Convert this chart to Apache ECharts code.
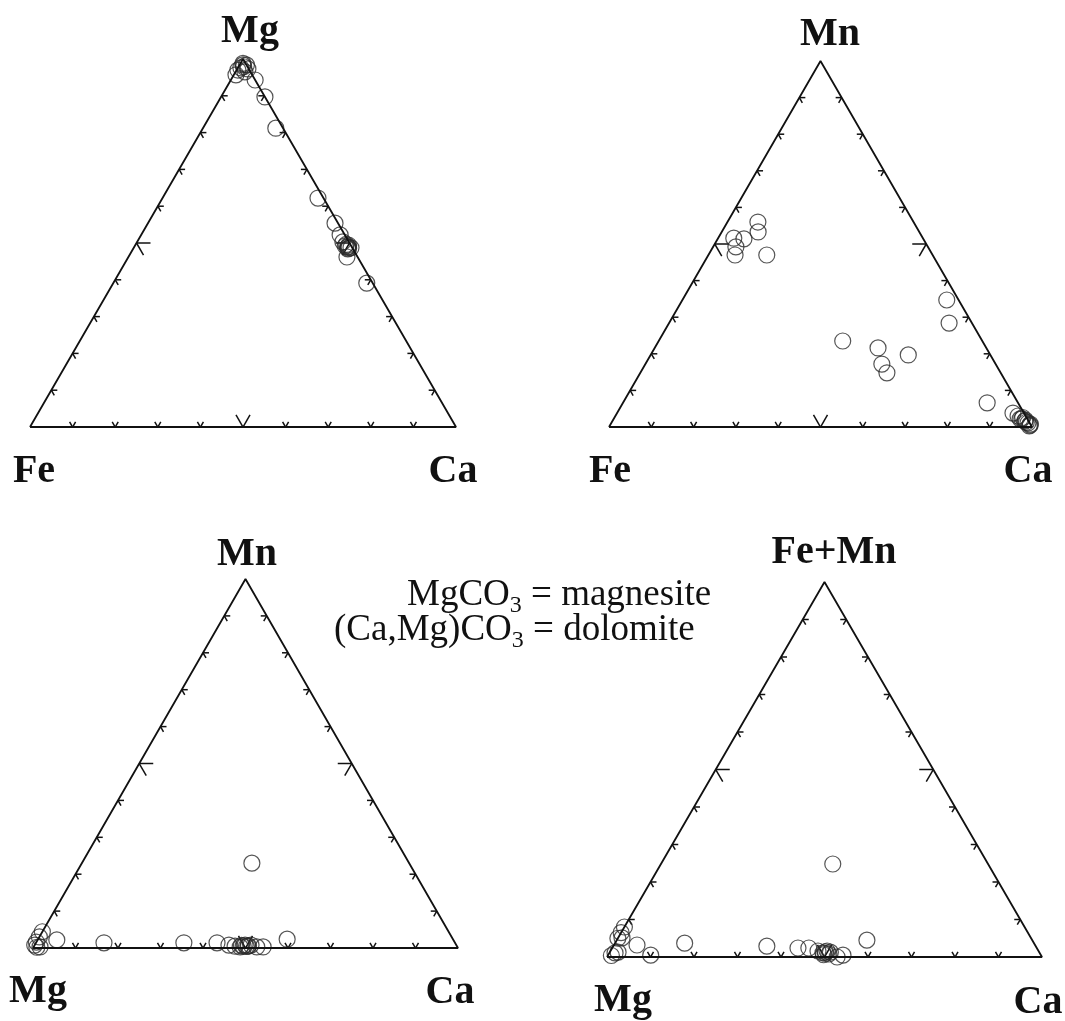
<!DOCTYPE html>
<html>
<head>
<meta charset="utf-8">
<script src="https://cdn.jsdelivr.net/npm/echarts@6/dist/echarts.min.js"></script>
<style>
html,body{margin:0;padding:0;background:#fff;}
#chart{width:1065px;height:1021px;}
</style>
</head>
<body>
<div id="chart"></div>
<script>
// Ternary data, percent: [top apex, bottom-left, bottom-right]
const plot1Labels = ['Mg', 'Fe', 'Ca'];
const plot1Data = [
  [95.7, 3.8, 0.5], [97.0, 2.7, 0.3], [98.4, 0.8, 0.8], [97.3, 0.2, 2.5],
  [96.5, 1.3, 2.2], [98.4, 0.0, 1.6], [97.6, 1.7, 0.7], [98.8, 0.6, 0.6],
  [97.9, 0.9, 1.2], [94.3, 0.0, 5.7],
  [89.7, 0.0, 10.3], [81.2, 1.7, 17.1], [62.2, 1.3, 36.5], [55.4, 0.7, 43.9],
  [52.2, 1.1, 46.7], [50.3, 1.4, 48.3], [48.9, 1.0, 50.1], [49.4, 0.5, 50.1],
  [48.4, 1.2, 50.4], [48.7, 0.3, 51.0], [49.2, 1.4, 49.4], [49.0, 0.8, 50.2],
  [48.6, 0.9, 50.5], [49.6, 1.0, 49.4], [46.2, 2.5, 51.3],
  [39.1, 1.4, 59.5]
];

const plot2Labels = ['Mn', 'Fe', 'Ca'];
const plot2Data = [
  [56.0, 36.8, 7.2], [53.3, 38.1, 8.6], [51.4, 42.4, 6.2], [51.6, 44.7, 3.7],
  [49.2, 45.4, 5.4], [47.0, 46.7, 6.3], [47.0, 39.2, 13.8], [34.7, 2.8, 62.5],
  [28.4, 5.4, 66.2], [23.5, 33.0, 43.5], [21.6, 25.6, 52.8], [19.7, 19.4, 60.9],
  [17.2, 26.9, 55.9], [14.8, 26.9, 58.3], [6.6, 7.3, 86.1], [3.8, 2.6, 93.6],
  [3.0, 1.8, 95.2], [2.2, 1.3, 96.5], [2.2, 1.7, 96.1], [1.6, 0.9, 97.5],
  [1.1, 0.4, 98.5], [0.5, 0.2, 99.3], [0.8, 0.0, 99.2], [1.9, 0.6, 97.5],
  [1.3, 0.7, 98.0], [2.6, 0.9, 96.5], [0.3, 0.5, 99.2]
];

const plot3Labels = ['Mn', 'Mg', 'Ca'];
const plot3Data = [
  [23.0, 37.0, 40.0], [2.2, 93.3, 4.5], [1.4, 82.6, 16.0], [1.4, 63.8, 34.8],
  [1.4, 56.0, 42.6], [0.8, 53.5, 45.7], [0.5, 52.2, 47.3], [0.3, 51.1, 48.6],
  [0.8, 49.7, 49.5], [0.5, 49.2, 50.3], [0.8, 48.3, 50.9], [0.3, 47.2, 52.5],
  [0.3, 45.7, 54.0], [2.4, 39.0, 58.6], [0.8, 99.2, 0.0], [4.4, 95.6, 0.0],
  [3.0, 97.0, 0.0], [0.3, 98.2, 1.5], [1.6, 98.4, 0.0], [0.5, 50.3, 49.2],
  [0.6, 49.0, 50.4], [0.4, 49.6, 50.0], [0.7, 50.6, 48.7], [0.2, 99.0, 0.8]
];

const plot4Labels = ['Fe+Mn', 'Mg', 'Ca'];
const plot4Data = [
  [24.8, 35.7, 39.5], [4.5, 38.0, 57.5], [3.7, 80.3, 16.0], [2.9, 61.8, 35.3],
  [2.4, 54.9, 42.7], [2.4, 52.4, 45.2], [1.6, 50.7, 47.7], [1.6, 48.6, 49.8],
  [1.1, 49.8, 49.1], [1.3, 48.0, 50.7], [0.0, 47.1, 52.9], [0.5, 45.5, 54.0],
  [3.2, 91.5, 5.3], [0.5, 89.7, 9.8], [8.0, 92.0, 0.0], [6.5, 93.5, 0.0],
  [5.0, 95.0, 0.0], [5.1, 94.0, 0.9], [1.1, 97.6, 1.3], [1.3, 96.8, 1.9],
  [1.0, 49.3, 49.7], [0.8, 48.6, 50.6], [1.4, 49.1, 49.5], [0.6, 49.9, 49.5],
  [0.4, 98.8, 0.8]
];

const tickValues = [10, 20, 30, 40, 50, 60, 70, 80, 90];
const majorTick = 50;
const noteLines = [
  ['MgCO', '3', ' = magnesite'],
  ['(Ca,Mg)CO', '3', ' = dolomite']
];

// ---------- layout ----------
const plots = [
  { labels: plot1Labels, data: plot1Data, box: [30, 59, 426, 368],
    labelPos: [[250, 43], [34, 483], [453, 483]] },
  { labels: plot2Labels, data: plot2Data, box: [609, 61, 423, 366],
    labelPos: [[830, 46], [610, 483], [1028, 483]] },
  { labels: plot3Labels, data: plot3Data, box: [33, 579, 425, 369],
    labelPos: [[247, 566], [38, 1003], [450, 1004]] },
  { labels: plot4Labels, data: plot4Data, box: [607, 582, 435, 375],
    labelPos: [[834, 564], [623, 1012], [1038, 1014]] }
];

function toXY(t) { // t = [top, left, right] percent
  const s = t[0] + t[1] + t[2];
  const top = t[0] / s, right = t[2] / s;
  return [right + top / 2, top];
}

const grid = [], xAxis = [], yAxis = [], series = [], graphic = [];
const LABEL_FONT = 'bold 40px "Liberation Serif", "Times New Roman", serif';

plots.forEach((p, i) => {
  grid.push({ left: p.box[0], top: p.box[1], width: p.box[2], height: p.box[3] });
  xAxis.push({ gridIndex: i, type: 'value', min: 0, max: 1, show: false });
  yAxis.push({ gridIndex: i, type: 'value', min: 0, max: 1, show: false });

  // ticks
  const tickData = [];
  [0, 1, 2].forEach(edge => tickValues.forEach(v => tickData.push([edge, v])));
  series.push({
    type: 'custom', xAxisIndex: i, yAxisIndex: i, silent: true, animation: false,
    data: tickData,
    renderItem: function (params, api) {
      const edge = api.value(0), v = api.value(1) / 100;
      let pt, d1, d2;
      if (edge === 0) { pt = [v, 0]; d1 = [0.5, -0.866]; d2 = [-0.5, -0.866]; }
      else if (edge === 1) { pt = [v / 2, v]; d1 = [1, 0]; d2 = [0.5, 0.866]; }
      else { pt = [1 - v / 2, v]; d1 = [-1, 0]; d2 = [-0.5, 0.866]; }
      const c = api.coord(pt);
      const L = (Math.abs(api.value(1) - majorTick) < 1e-6) ? 14 : 6;
      const st = { stroke: '#111', lineWidth: 1.5, fill: null };
      return {
        type: 'group',
        children: [
          { type: 'line', shape: { x1: c[0], y1: c[1], x2: c[0] + d1[0] * L, y2: c[1] + d1[1] * L }, style: st },
          { type: 'line', shape: { x1: c[0], y1: c[1], x2: c[0] + d2[0] * L, y2: c[1] + d2[1] * L }, style: st }
        ]
      };
    }
  });

  // triangle outline
  series.push({
    type: 'line', xAxisIndex: i, yAxisIndex: i, silent: true, animation: false,
    symbol: 'none',
    data: [[0, 0], [1, 0], [0.5, 1], [0, 0]],
    lineStyle: { color: '#111', width: 1.8 }
  });

  // points
  series.push({
    type: 'scatter', xAxisIndex: i, yAxisIndex: i, animation: false,
    symbol: 'circle', symbolSize: 16,
    data: p.data.map(toXY),
    itemStyle: { color: 'rgba(0,0,0,0)', borderColor: '#2a2a2a', borderWidth: 1.2 },
    emphasis: { disabled: true }
  });

  // corner labels (baseline positions)
  p.labels.forEach((lab, k) => {
    graphic.push({
      type: 'text', x: p.labelPos[k][0], y: p.labelPos[k][1] - 11, silent: true,
      style: { text: lab, font: LABEL_FONT, fill: '#111', align: 'center', verticalAlign: 'middle' }
    });
  });
});

// annotation with subscripts
(function () {
  const ctx = document.createElement('canvas').getContext('2d');
  const mainFont = '37px "Liberation Serif", "Times New Roman", serif';
  const subFont = '24px "Liberation Serif", "Times New Roman", serif';
  const starts = [[407, 607], [334, 642]];
  noteLines.forEach((parts, li) => {
    let x = starts[li][0];
    const base = starts[li][1];
    parts.forEach((txt, pi) => {
      const isSub = pi === 1;
      const font = isSub ? subFont : mainFont;
      ctx.font = font;
      const w = ctx.measureText(txt).width;
      const fs = isSub ? 24 : 37;
      const b = isSub ? base + 7 : base;
      graphic.push({
        type: 'text', x: x, y: b - fs * 0.33, silent: true,
        style: { text: txt, font: font, fill: '#111', align: 'left', verticalAlign: 'middle' }
      });
      x += w;
    });
  });
})();

const chart = echarts.init(document.getElementById('chart'), null, { renderer: 'canvas' });
chart.setOption({
  backgroundColor: '#fff',
  animation: false,
  grid: grid, xAxis: xAxis, yAxis: yAxis,
  series: series,
  graphic: graphic
});
</script>
</body>
</html>
